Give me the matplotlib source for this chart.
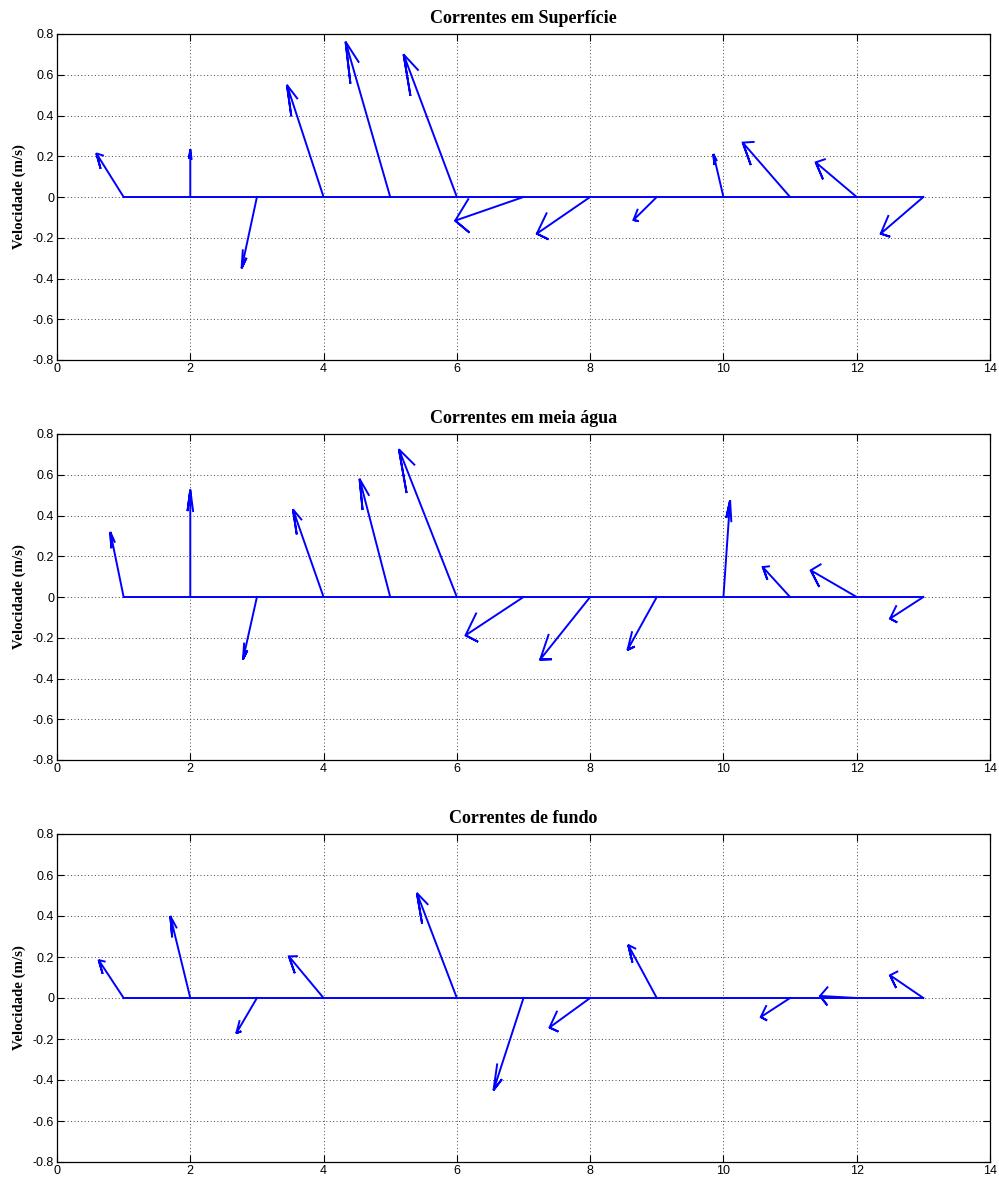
import numpy as np
import matplotlib
matplotlib.use("Agg")
import matplotlib.pyplot as plt
from matplotlib.ticker import FixedLocator, FixedFormatter

# ---- data (u = east/x component, v = north/y component, m/s) ----
titles = ["Correntes em Superfície", "Correntes em meia água", "Correntes de fundo"]
ylabel = "Velocidade (m/s)"

u_sup = [-0.41, 0.00, -0.23, -0.55, -0.67, -0.80, -1.025, -0.80, -0.35, -0.15, -0.71, -0.615, -0.64]
v_sup = [0.214, 0.234, -0.35, 0.55, 0.762, 0.70, -0.116, -0.18, -0.113, 0.211, 0.267, 0.17, -0.18]

u_meio = [-0.20, 0.00, -0.21, -0.46, -0.46, -0.87, -0.87, -0.75, -0.44, 0.10, -0.41, -0.69, -0.50]
v_meio = [0.319, 0.527, -0.307, 0.43, 0.58, 0.725, -0.188, -0.307, -0.26, 0.475, 0.147, 0.131, -0.106]

u_fundo = [-0.375, -0.30, -0.31, -0.52, 0.0, -0.60, -0.45, -0.61, -0.43, 0.0, -0.44, -0.55, -0.50]
v_fundo = [0.185, 0.40, -0.172, 0.203, 0.0, 0.512, -0.45, -0.144, 0.259, 0.0, -0.093, 0.01, 0.111]

series = [(u_sup, v_sup), (u_meio, v_meio), (u_fundo, v_fundo)]

xticks = [0, 2, 4, 6, 8, 10, 12, 14]
yticks = [-0.8, -0.6, -0.4, -0.2, 0, 0.2, 0.4, 0.6, 0.8]
yticklabels = ["-0.8", "-0.6", "-0.4", "-0.2", "0", "0.2", "0.4", "0.6", "0.8"]

# ---- figure ----
W, H = 999, 1178
fig = plt.figure(figsize=(W / 100, H / 100), dpi=100)

axes_px = [(34, 360), (434, 760), (834, 1162)]  # (top, bottom) in pixels
left_px, right_px = 57, 990

# MATLAB feather arrow template
arr_x = np.array([0, 1, 0.8, 1, 0.8])
arr_y = np.array([0, 0, 0.08, 0, -0.08])
arrow = arr_x + 1j * arr_y

for (top, bot), (u, v), title in zip(axes_px, series, titles):
    ax = fig.add_axes([left_px / W, 1 - bot / H, (right_px - left_px) / W, (bot - top) / H])
    z = np.array(u) + 1j * np.array(v)
    n = len(z)
    st = np.arange(1, n + 1)
    zz = np.outer(arrow, z)
    a = zz.real + st[None, :]
    b = zz.imag
    for k in range(n):
        if abs(z[k]) > 0:
            ax.plot(a[:, k], b[:, k], '-', color=(0, 0, 1), lw=1.4, solid_joinstyle='miter')
    ax.plot([st.min(), st.max()], [0, 0], '-', color=(0, 0, 1), lw=1.4)

    ax.set_xlim(0, 14)
    ax.set_ylim(-0.8, 0.8)
    ax.xaxis.set_major_locator(FixedLocator(xticks))
    ax.xaxis.set_major_formatter(FixedFormatter([str(t) for t in xticks]))
    ax.yaxis.set_major_locator(FixedLocator(yticks))
    ax.yaxis.set_major_formatter(FixedFormatter(yticklabels))
    ax.tick_params(direction='in', top=True, right=True, length=5, width=0.8,
                   labelsize=9, pad=2)
    for lab in ax.get_xticklabels() + ax.get_yticklabels():
        lab.set_fontfamily(['Liberation Sans', 'DejaVu Sans'])
    ax.grid(True, linestyle=(0, (1, 2.5)), color='#444444', linewidth=0.7)
    for sp in ax.spines.values():
        sp.set_linewidth(0.9)
    ax.set_title(title, fontfamily=['Liberation Serif', 'DejaVu Serif'],
                 fontweight='bold', fontsize=13, pad=8)
    ax.set_ylabel(ylabel, fontfamily=['Liberation Serif', 'DejaVu Serif'],
                  fontweight='bold', fontsize=10.7, labelpad=5)

fig.savefig("out.png", dpi=100)
